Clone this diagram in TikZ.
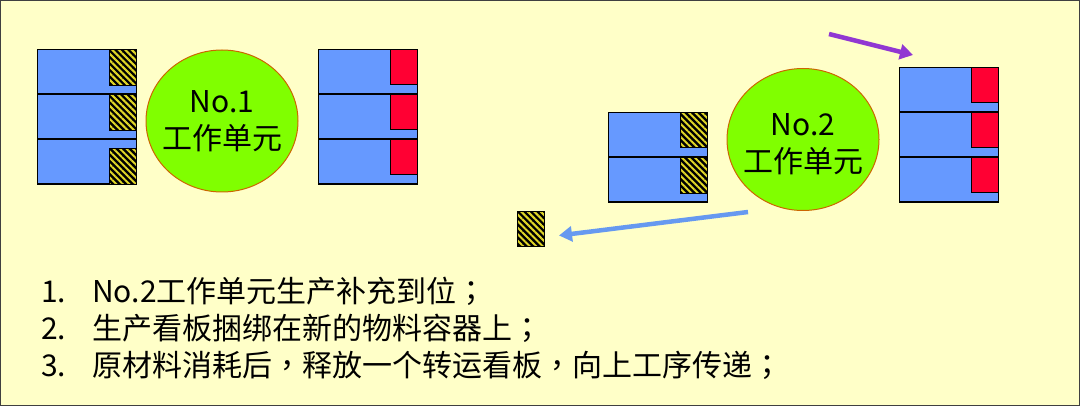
\documentclass[tikz,border=0pt]{standalone}
\usepackage{fontspec}
\setmainfont{Noto Sans CJK SC}
\newfontfamily\punctfont{Noto Sans CJK TC}
\newcommand{\fwsemi}{{\punctfont ；}}
\newcommand{\fwcomma}{{\punctfont ，}}
\usetikzlibrary{patterns.meta,arrows.meta,shapes.geometric}
\definecolor{bg}{RGB}{255,255,200}
\definecolor{boxblue}{RGB}{102,153,255}
\definecolor{kred}{RGB}{255,0,51}
\definecolor{cgreen}{RGB}{128,255,0}
\definecolor{cedge}{RGB}{204,102,0}
\definecolor{arrpurple}{RGB}{145,55,210}
\definecolor{arrblue}{RGB}{102,153,240}
\definecolor{kyellow}{RGB}{225,215,40}
\begin{document}
\begin{tikzpicture}[x=1pt,y=-1pt,
  container/.style={rectangle, draw=black, line width=1.3pt, fill=boxblue, inner sep=0pt,
    minimum width=99pt, minimum height=44.3pt, anchor=north west},
  hatchkb/.style={rectangle, draw=black, line width=1pt, inner sep=0pt,
    minimum width=27pt, minimum height=35.5pt, preaction={fill=black},
    pattern={Lines[angle=-45,distance=4.6pt,line width=2pt]}, pattern color=kyellow},
  redkb/.style={rectangle, draw=black, line width=1pt, fill=kred, inner sep=0pt,
    minimum width=27pt, minimum height=35pt},
  cell/.style={ellipse, draw=cedge, line width=1pt, fill=cgreen, inner sep=0pt,
    minimum width=152pt, minimum height=142pt},
  celltext/.style={align=center, inner sep=0pt, font=\fontsize{30}{37}\selectfont},
  listtext/.style={anchor=base west, inner sep=0pt, font=\fontsize{30}{36}\selectfont},
  flow/.style={line width=4.5pt, -{Triangle[length=13pt,width=15pt]}}
]
% background and frame
\fill[bg] (0,0) rectangle (1080,406);
\draw[black!75, line width=1.2pt] (0.6,0.6) rectangle (1079.4,405.4);
\useasboundingbox (0,0) rectangle (1080,406);

% ---- No.1 work unit: incoming stack (hatched kanbans)
\node[container] (a1) at (37,49) {};
\node[container] (a2) at (37,94.1) {};
\node[container] (a3) at (37,139.2) {};
\node[hatchkb, anchor=north east] (ka1) at (a1.north east) {};
\node[hatchkb, anchor=north east] (ka2) at (a2.north east) {};
\node[hatchkb, anchor=south east] (ka3) at (a3.south east) {};

% ---- No.1 cell
\node[cell] (cell1) at (222,121) {};
\node[celltext] (cell1txt) at (cell1.center) {No.1\\工作单元};

% ---- No.1 outgoing stack (red kanbans)
\node[container] (b1) at (318,49) {};
\node[container] (b2) at (318,94.1) {};
\node[container] (b3) at (318,139.2) {};
\node[redkb, anchor=north east] (kb1) at (b1.north east) {};
\node[redkb, anchor=north east] (kb2) at (b2.north east) {};
\node[redkb, anchor=north east] (kb3) at (b3.north east) {};

% ---- No.2 incoming stack
\node[container] (c1) at (608,112) {};
\node[container] (c2) at (608,157.1) {};
\node[hatchkb, anchor=north east] (kc1) at (c1.north east) {};
\node[hatchkb, anchor=north east] (kc2) at (c2.north east) {};

% released kanban
\node[hatchkb, anchor=north west] (kfree) at (517,211) {};

% ---- No.2 cell
\node[cell] (cell2) at (803,139.5) {};
\node[celltext] (cell2txt) at ([yshift=-5pt]cell2.center) {No.2\\工作单元};

% ---- No.2 outgoing stack
\node[container] (d1) at (899,67) {};
\node[container] (d2) at (899,112.1) {};
\node[container] (d3) at (899,157.2) {};
\node[redkb, anchor=north east] (kd1) at (d1.north east) {};
\node[redkb, anchor=north east] (kd2) at (d2.north east) {};
\node[redkb, anchor=north east] (kd3) at (d3.north east) {};

% ---- arrows
\coordinate (p0) at (829,34);
\coordinate (p1) at (913,55);
\draw[flow, arrpurple] (p0) -- (p1);
\coordinate (q0) at (748,212);
\coordinate (q1) at (559,235.5);
\draw[flow, arrblue] (q0) -- (q1);

% ---- list
\node[listtext] (n1) at (41,303) {1.};
\node[listtext] (t1) at (92,303) {No.2工作单元生产补充到位\fwsemi};
\node[listtext] (n2) at (41,340) {2.};
\node[listtext] (t2) at (92,340) {生产看板捆绑在新的物料容器上\fwsemi};
\node[listtext] (n3) at (41,376) {3.};
\node[listtext] (t3) at (92,376) {原材料消耗后\fwcomma 释放一个转运看板\fwcomma 向上工序传递\fwsemi};
\end{tikzpicture}
\end{document}
